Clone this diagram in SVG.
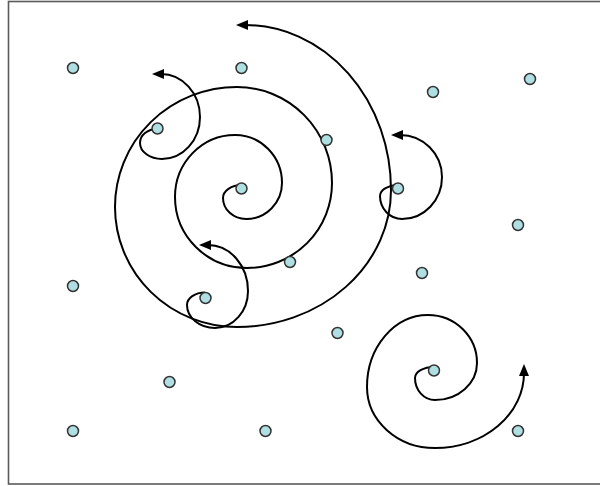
<svg xmlns="http://www.w3.org/2000/svg" width="600" height="486" viewBox="0 0 600 486">
<style>
.frame{fill:#fff;stroke:#5a5a5a;stroke-width:1.6}
.sp{fill:none;stroke:#000;stroke-width:2;marker-end:url(#ah)}
.dot{fill:#b0dfe3;stroke:#333;stroke-width:1.5}
</style>
<defs>
<marker id="ah" markerUnits="userSpaceOnUse" markerWidth="14" markerHeight="14" refX="3" refY="5" orient="auto">
<path d="M0,0 L12,5 L0,10 Z" fill="#000"/>
</marker>
</defs>
<rect class="frame" x="8.5" y="1.5" width="600" height="482.5"/>
<g id="connectors">
<path id="spiral-main" class="sp" d="M241.7,185 A18.7,13 0 0 0 223,198 A23,21 0 0 0 246,219 A36,36 0 0 0 282,183 A47,48 0 0 0 235,135 A60,62 0 0 0 175,197 A72,71 0 0 0 247,268 A85,85 0 0 0 332,183 A95,96 0 0 0 237,87 A122,120 0 0 0 115,207 A122,120 0 0 0 237,327 A154,137 0 0 0 391,190 A146,165 0 0 0 245,25"/>
<path id="spiral-2" class="sp" d="M157,129 A17,14 0 0 0 140,143 A22,16 0 0 0 162,159 A38,42 0 0 0 200,117 A39,43 0 0 0 161,74"/>
<path id="spiral-3" class="sp" d="M399,185 A19,11 0 0 0 380,196 A22,23 0 0 0 402,219 A40,42 0 0 0 442,177 A42,42 0 0 0 400,135"/>
<path id="spiral-4" class="sp" d="M205,292.5 A18,12.5 0 0 0 187,305 A28,23 0 0 0 215,328 A33,37 0 0 0 248,291 A40,46 0 0 0 208,245"/>
<path id="spiral-5" class="sp" d="M434,367 A19,11 0 0 0 415,378 A20,22 0 0 0 435,400 A42,37 0 0 0 477,363 A49,48 0 0 0 428,315 A61,72 0 0 0 367,387 A68,61 0 0 0 435,448 A89,75 0 0 0 524,373"/>
</g>
<g id="n1"><circle class="dot" cx="73" cy="68" r="5.5"/></g>
<g id="n2"><circle class="dot" cx="241.5" cy="68" r="5.5"/></g>
<g id="n3"><circle class="dot" cx="433" cy="92" r="5.5"/></g>
<g id="n4"><circle class="dot" cx="530" cy="79" r="5.5"/></g>
<g id="n5"><circle class="dot" cx="157.5" cy="128.5" r="5.5"/></g>
<g id="n6"><circle class="dot" cx="326.5" cy="140" r="5.5"/></g>
<g id="n7"><circle class="dot" cx="241.5" cy="188.5" r="5.5"/></g>
<g id="n8"><circle class="dot" cx="398" cy="188.5" r="5.5"/></g>
<g id="n9"><circle class="dot" cx="518" cy="225" r="5.5"/></g>
<g id="n10"><circle class="dot" cx="290" cy="262" r="5.5"/></g>
<g id="n11"><circle class="dot" cx="422" cy="273" r="5.5"/></g>
<g id="n12"><circle class="dot" cx="73" cy="286" r="5.5"/></g>
<g id="n13"><circle class="dot" cx="205.5" cy="298" r="5.5"/></g>
<g id="n14"><circle class="dot" cx="337.5" cy="333" r="5.5"/></g>
<g id="n15"><circle class="dot" cx="434" cy="370.5" r="5.5"/></g>
<g id="n16"><circle class="dot" cx="169.5" cy="382" r="5.5"/></g>
<g id="n17"><circle class="dot" cx="73" cy="431" r="5.5"/></g>
<g id="n18"><circle class="dot" cx="265.5" cy="431" r="5.5"/></g>
<g id="n19"><circle class="dot" cx="518" cy="431" r="5.5"/></g>
</svg>
